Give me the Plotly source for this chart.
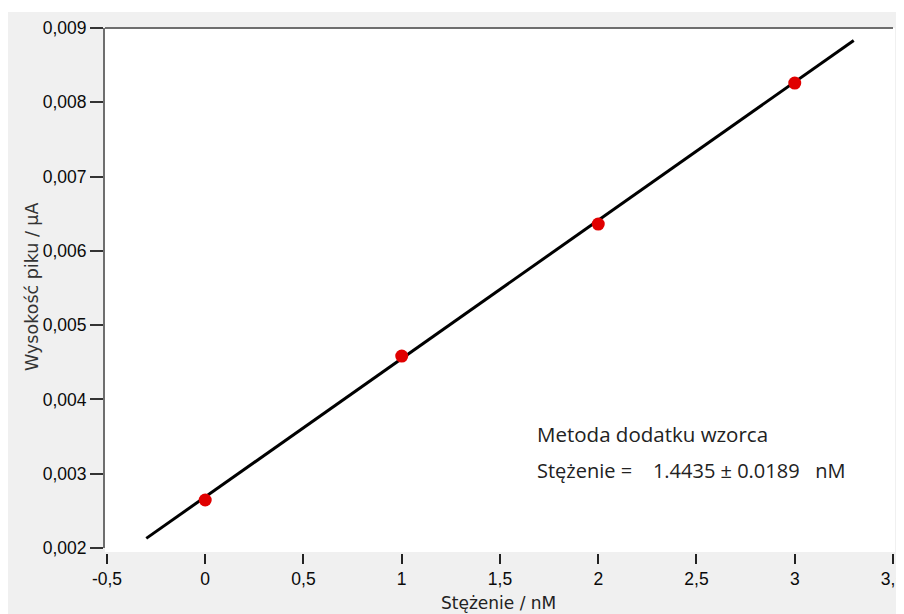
import plotly.graph_objects as go

# Data
conc = [0, 1, 2, 3]
peak_height = [0.002646, 0.004584, 0.006361, 0.008258]
fit_x = [-0.3, 3.3]
fit_slope = 0.001862
fit_intercept = 0.002688
fit_y = [fit_intercept + fit_slope * x for x in fit_x]

x_tickvals = [-0.5, 0, 0.5, 1, 1.5, 2, 2.5, 3, 3.5]
x_ticktext = ["-0,5", "0", "0,5", "1", "1,5", "2", "2,5", "3", "3,5"]
y_tickvals = [0.002, 0.003, 0.004, 0.005, 0.006, 0.007, 0.008, 0.009]
y_ticktext = ["0,002", "0,003", "0,004", "0,005", "0,006", "0,007", "0,008", "0,009"]

# page body has an 8px margin, so figure pixel = screen pixel - 8
OFF = 8
W, H = 904 - OFF, 614 - OFF
L, R = 105 - OFF, 893 - OFF
T, B = 28 - OFF, 553 - OFF
PW, PH = R - L, B - T

def px(sx):
    return (sx - OFF - L) / PW

def py(sy):
    return (B - (sy - OFF)) / PH

fig = go.Figure()
fig.add_trace(go.Scatter(x=fit_x, y=fit_y, mode="lines",
                         line=dict(color="black", width=3), hoverinfo="skip"))
fig.add_trace(go.Scatter(x=conc, y=peak_height, mode="markers",
                         marker=dict(color="#e00000", size=13,
                                     line=dict(width=0))))

tickfont = dict(family="Liberation Sans, Arial", size=17.5, color="#0a0a0a")

fig.update_layout(
    width=W, height=H,
    margin=dict(l=L, r=W - R, t=T, b=H - B, pad=0, autoexpand=False),
    paper_bgcolor="#f0f0f0",
    plot_bgcolor="white",
    showlegend=False,
    xaxis=dict(range=[-0.51, 3.5], tickvals=x_tickvals, ticktext=x_ticktext,
               showgrid=False, zeroline=False, showline=False,
               ticks="outside", ticklen=10, tickwidth=2, tickcolor="#222222",
               tickfont=tickfont, anchor="free", position=0,
               ticklabeloverflow="allow", automargin=False),
    yaxis=dict(range=[0.002, 0.009], tickvals=y_tickvals, ticktext=y_ticktext,
               domain=[(553 - 548) / PH, 1],
               showgrid=False, zeroline=False, showline=True,
               linecolor="#6e6e6e", linewidth=2,
               ticks="outside", ticklen=13, tickwidth=1.5, tickcolor="#333333",
               tickfont=tickfont, automargin=False),
    shapes=[
        # white extension of plot background
        dict(type="rect", xref="paper", yref="paper", x0=0, x1=px(895),
             y0=py(552), y1=1, fillcolor="white", line=dict(width=0), layer="below"),
        # white strip at top of canvas
        dict(type="rect", xref="paper", yref="paper", x0=px(0), x1=px(910),
             y0=py(12), y1=py(0), fillcolor="white", line=dict(width=0), layer="below"),
        # top frame line
        dict(type="line", xref="paper", yref="paper", x0=0, x1=1,
             y0=1, y1=1, line=dict(color="#6e6e6e", width=2)),
    ],
    annotations=[
        dict(text="Wysokość piku / µA", xref="paper", yref="paper",
             x=px(32), y=py(287), textangle=-90, showarrow=False,
             xanchor="center", yanchor="middle",
             font=dict(family="DejaVu Sans", size=17.5, color="#333333")),
        dict(text="Stężenie / nM", xref="paper", yref="paper",
             x=px(498), y=py(603), showarrow=False,
             xanchor="center", yanchor="middle",
             font=dict(family="DejaVu Sans", size=17, color="#222222")),
        dict(text="Metoda dodatku wzorca", xref="paper", yref="paper",
             x=px(535), y=py(434), showarrow=False,
             xanchor="left", yanchor="middle",
             font=dict(family="Open Sans", size=20.5, color="#222222")),
        dict(text="Stężenie =\u00a0\u00a0\u00a0 1.4435 ± 0.0189\u00a0\u00a0\u00a0nM",
             xref="paper", yref="paper",
             x=px(535), y=py(470), showarrow=False,
             xanchor="left", yanchor="middle",
             font=dict(family="Open Sans", size=20, color="#222222")),
    ],
)

fig.write_html("out.html")
